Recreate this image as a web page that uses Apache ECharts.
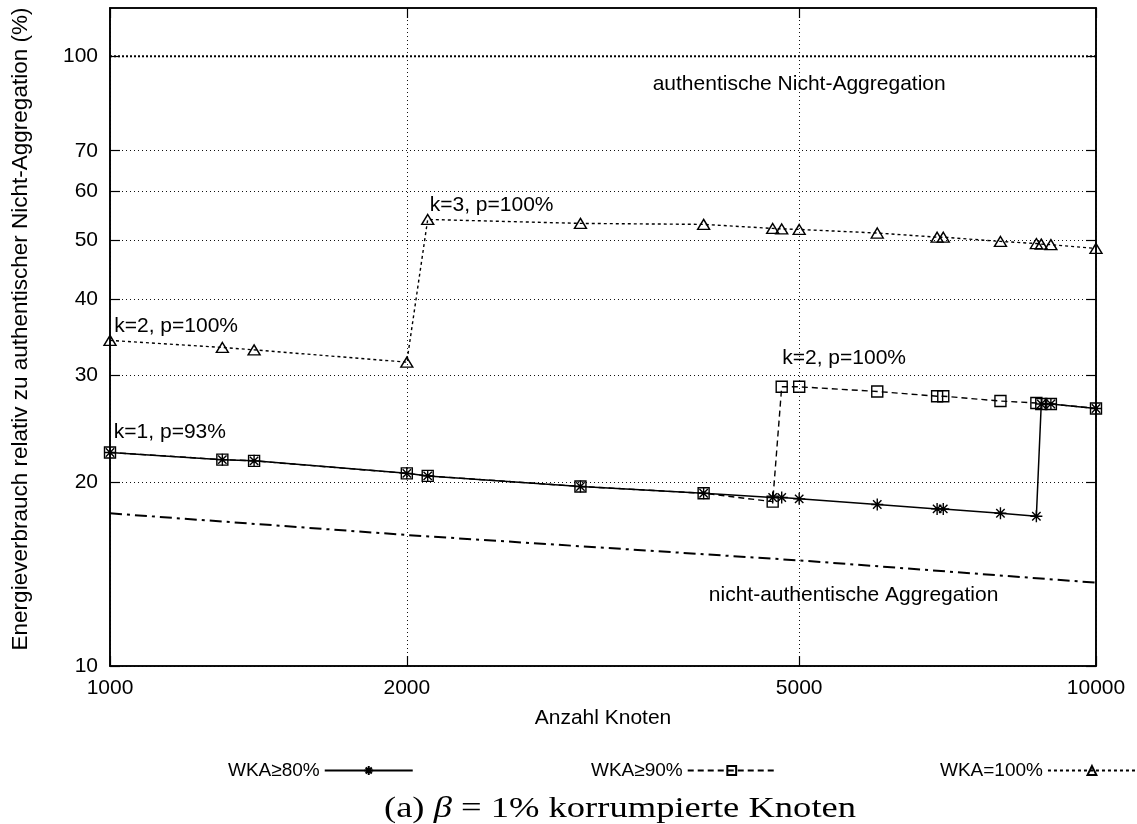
<!DOCTYPE html>
<html>
<head>
<meta charset="utf-8">
<title>Energieverbrauch – korrumpierte Knoten</title>
<script src="https://cdn.jsdelivr.net/npm/echarts@6/dist/echarts.min.js"></script>
<style>
  html, body { margin: 0; padding: 0; background: #fff; }
  #chart { width: 1137px; height: 824px; }
</style>
</head>
<body>
<div id="chart"></div>
<script>
// Network sizes (Anzahl Knoten) shared by the three WKA series
const nodes = [1000, 1300, 1400, 2000, 2100, 3000, 4000, 4700, 4800, 5000, 6000, 6900, 7000, 8000, 8700, 8800, 9000, 10000];

// Energy relative to authentic non-aggregation (%)
const wka80  = [22.4, 21.8, 21.7, 20.7, 20.5, 19.7, 19.2, 18.9, 18.9, 18.8, 18.4, 18.1, 18.1, 17.8, 17.6, 26.9, 26.9, 26.45];
const wka90  = [22.4, 21.8, 21.7, 20.7, 20.5, 19.7, 19.2, 18.6, 28.7, 28.7, 28.2, 27.7, 27.7, 27.2, 27.0, 26.9, 26.9, 26.45];
const wka100 = [34.2, 33.3, 33.0, 31.5, 54.0, 53.2, 53.0, 52.2, 52.1, 52.0, 51.3, 50.5, 50.5, 49.7, 49.3, 49.2, 49.1, 48.4];

// Reference curves
const noAuthNodes = [1000, 2000, 5000, 10000];
const noAuthValues = [17.8, 16.4, 14.9, 13.7];
const authNodes = [1000, 10000];
const authValues = [100, 100];

// Axis ticks
const xTicks = [1000, 2000, 5000, 10000];
const yTicks = [10, 20, 30, 40, 50, 60, 70, 100];

// Annotations (text, anchor in data coordinates)
const annoText = ['k=2, p=100%', 'k=3, p=100%', 'k=2, p=100%', 'k=1, p=93%', 'authentische Nicht-Aggregation', 'nicht-authentische Aggregation'];
const annoX = [1010, 2110, 4806, 1009, 5000, 5677];
const annoY = [36.1, 56.9, 31.95, 24.2, 89.9, 13.06];

const seriesNames = ['WKA≥80%', 'WKA≥90%', 'WKA=100%'];

const FONT = '"Liberation Sans", Arial, Helvetica, sans-serif';
const SERIF = '"Liberation Serif", "Times New Roman", serif';
const FS = 21;
const INK = '#000';

const pair = (xs, ys) => xs.map((x, i) => [x, ys[i]]);

const starPath = 'path://M0,5L10,5M5,0L5,10M1.5,1.5L8.5,8.5M8.5,1.5L1.5,8.5';
const squarePath = 'path://M0,0L10,0L10,10L0,10Z';
const trianglePath = 'path://M5,0L10,9L0,9Z';

const markerStyle = { color: 'rgba(0,0,0,0)', borderColor: INK, borderWidth: 1.4 };

function baseAxis(extra) {
  return Object.assign({
    type: 'log',
    logBase: 10,
    axisLine: { show: true, onZero: false, lineStyle: { color: INK, width: 1.6 } },
    axisTick: { show: true, inside: true, length: 10, lineStyle: { color: INK, width: 1.2 } },
    axisLabel: { show: true, color: INK, fontFamily: FONT, fontSize: FS, margin: 12 },
    splitLine: { show: false },
    minorTick: { show: false },
    minorSplitLine: { show: false }
  }, extra);
}

const gridLineStyle = { color: '#111', width: 1, type: [1, 3] };

const xMain = baseAxis({
  position: 'bottom', min: 1000, max: 10000,
  name: 'Anzahl Knoten', nameLocation: 'middle', nameGap: 42,
  nameTextStyle: { fontFamily: FONT, fontSize: FS, color: INK }
});
xMain.axisTick.customValues = xTicks;
xMain.axisLabel.customValues = xTicks;
xMain.axisLabel.formatter = v => String(Math.round(v));
xMain.splitLine = { show: true, lineStyle: gridLineStyle };

const xTop = baseAxis({ position: 'top', min: 1000, max: 10000 });
xTop.axisTick.customValues = xTicks;
xTop.axisLabel = { show: false, customValues: xTicks };

const yMain = baseAxis({
  position: 'left', min: 10, max: 120,
  name: 'Energieverbrauch relativ zu authentischer Nicht-Aggregation (%)',
  nameLocation: 'middle', nameGap: 78, nameRotate: 90,
  nameTextStyle: { fontFamily: FONT, fontSize: 22.5, color: INK, padding: [0, 0, 0, 16] }
});
yMain.axisTick.customValues = yTicks;
yMain.axisLabel.customValues = yTicks;
yMain.axisLabel.formatter = v => String(Math.round(v));
yMain.splitLine = { show: true, lineStyle: gridLineStyle };

const yRight = baseAxis({ position: 'right', min: 10, max: 120 });
yRight.axisTick.customValues = yTicks;
yRight.axisLabel = { show: false, customValues: yTicks };

function legendAt(name, left) {
  return {
    data: [name], left: left, top: 761, align: 'right', padding: 0,
    itemWidth: 88, itemHeight: 11,
    textStyle: { fontFamily: FONT, fontSize: 19, color: INK },
    selectedMode: false
  };
}

const annoAlign = ['left', 'left', 'left', 'left', 'center', 'center'];

const option = {
  animation: false,
  backgroundColor: '#fff',
  grid: { left: 110, top: 8, width: 986, height: 658, show: true, borderColor: INK, borderWidth: 1.6, backgroundColor: 'transparent' },
  xAxis: [xMain, xTop],
  yAxis: [yMain, yRight],
  legend: [legendAt(seriesNames[0], 228), legendAt(seriesNames[1], 591), legendAt(seriesNames[2], 940)],
  graphic: [{
    // subfigure caption
    type: 'text', z: 10, x: 620, y: 809, scaleX: 1.26,
    style: {
      x: 0, y: 0, align: 'center', verticalAlign: 'middle',
      text: '{n|(a) }{m|β}{n| = 1% korrumpierte Knoten}',
      rich: {
        n: { fontFamily: SERIF, fontSize: 29, fill: INK },
        m: { fontFamily: SERIF, fontSize: 29, fontStyle: 'italic', fill: INK }
      }
    }
  }],
  series: [
    {
      name: 'authentische Nicht-Aggregation', type: 'line', data: pair(authNodes, authValues),
      symbol: 'none', lineStyle: { color: INK, width: 2, type: [2, 2] }, z: 2, silent: true
    },
    {
      name: 'nicht-authentische Aggregation', type: 'line', data: pair(noAuthNodes, noAuthValues),
      symbol: 'none', lineStyle: { color: INK, width: 2, type: [12, 5, 3, 5] }, z: 2, silent: true
    },
    {
      name: seriesNames[2], type: 'line', data: pair(nodes, wka100),
      symbol: trianglePath, symbolSize: [12, 10], showAllSymbol: true,
      lineStyle: { color: INK, width: 1.4, type: [3, 3] },
      itemStyle: markerStyle, z: 3
    },
    {
      name: seriesNames[1], type: 'line', data: pair(nodes, wka90),
      symbol: squarePath, symbolSize: 11, showAllSymbol: true,
      lineStyle: { color: INK, width: 1.4, type: [6, 4] },
      itemStyle: markerStyle, z: 4
    },
    {
      name: seriesNames[0], type: 'line', data: pair(nodes, wka80),
      symbol: starPath, symbolSize: 12, showAllSymbol: true,
      lineStyle: { color: INK, width: 1.5, type: 'solid' },
      itemStyle: markerStyle, z: 5
    },
    {
      name: 'Beschriftung', type: 'scatter', symbolSize: 0, silent: true, z: 6,
      data: annoText.map((t, i) => ({
        value: [annoX[i], annoY[i]],
        label: {
          show: true, formatter: t, position: 'inside', align: annoAlign[i], verticalAlign: 'middle',
          fontFamily: FONT, fontSize: FS, color: INK, textBorderWidth: 0, opacity: 1
        }
      }))
    }
  ]
};

const chart = echarts.init(document.getElementById('chart'), null, { renderer: 'canvas' });
chart.setOption(option);
</script>
</body>
</html>
